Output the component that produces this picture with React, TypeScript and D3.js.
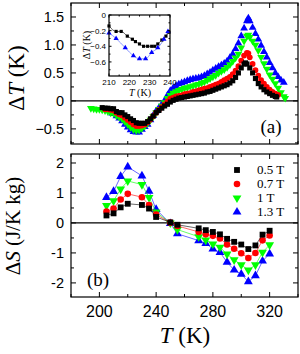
import React, { useRef, useEffect } from 'react';
import * as d3 from 'd3';

type Pt = [number, number];

// upper panel: ΔT (K) against T (K)
const dT05: Pt[] = [[202,-0.12],[204,-0.13],[206,-0.13],[208,-0.14],[210,-0.14],[212,-0.19],[214,-0.21],[216,-0.21],[218,-0.25],[220,-0.28],[222,-0.32],[224,-0.35],[226,-0.39],[228,-0.40],[230,-0.40],[232,-0.40],[234,-0.37],[236,-0.32],[238,-0.27],[240,-0.21],[242,-0.17],[244,-0.13],[246,-0.09],[248,-0.06],[250,-0.02],[252,0.01],[254,0.03],[256,0.05],[258,0.06],[260,0.07],[262,0.08],[264,0.09],[266,0.10],[268,0.11],[270,0.12],[272,0.13],[274,0.14],[276,0.16],[278,0.17],[280,0.19],[282,0.21],[284,0.23],[286,0.25],[288,0.27],[290,0.29],[292,0.32],[294,0.36],[296,0.42],[298,0.50],[300,0.59],[302,0.66],[303,0.68],[304,0.66],[306,0.59],[308,0.50],[310,0.40],[312,0.31],[314,0.25],[316,0.20],[318,0.16],[320,0.13],[322,0.10],[324,0.08],[325,0.07]];
const dT07: Pt[] = [[204,-0.15],[206,-0.15],[208,-0.16],[210,-0.17],[212,-0.21],[214,-0.24],[216,-0.26],[218,-0.30],[220,-0.34],[222,-0.38],[224,-0.42],[226,-0.45],[228,-0.45],[230,-0.44],[232,-0.42],[234,-0.38],[236,-0.33],[238,-0.27],[240,-0.21],[242,-0.16],[244,-0.11],[246,-0.06],[248,-0.01],[250,0.04],[252,0.06],[254,0.08],[256,0.09],[258,0.10],[260,0.12],[262,0.13],[264,0.14],[266,0.16],[268,0.17],[270,0.19],[272,0.20],[274,0.22],[276,0.23],[278,0.25],[280,0.27],[282,0.29],[284,0.31],[286,0.34],[288,0.37],[290,0.40],[292,0.43],[294,0.48],[296,0.54],[298,0.62],[300,0.72],[302,0.81],[304,0.86],[305,0.85],[306,0.78],[308,0.66],[310,0.55],[312,0.45],[314,0.37],[316,0.31],[318,0.25],[320,0.20],[322,0.16],[324,0.13],[326,0.11]];
const dT10: Pt[] = [[194,-0.13],[196,-0.14],[198,-0.15],[200,-0.15],[202,-0.16],[204,-0.17],[206,-0.19],[208,-0.21],[210,-0.22],[212,-0.26],[214,-0.29],[216,-0.32],[218,-0.37],[220,-0.42],[222,-0.47],[224,-0.51],[226,-0.53],[228,-0.52],[230,-0.49],[232,-0.45],[234,-0.40],[236,-0.34],[238,-0.28],[240,-0.21],[242,-0.15],[244,-0.09],[246,-0.03],[248,0.05],[250,0.10],[252,0.14],[254,0.17],[256,0.19],[258,0.21],[260,0.23],[262,0.24],[264,0.26],[266,0.27],[268,0.29],[270,0.30],[272,0.32],[274,0.34],[276,0.37],[278,0.40],[280,0.43],[282,0.46],[284,0.50],[286,0.53],[288,0.56],[290,0.60],[292,0.65],[294,0.71],[296,0.77],[298,0.84],[300,0.95],[302,1.07],[304,1.16],[305,1.18],[306,1.14],[308,1.07],[310,1.00],[312,0.90],[314,0.78],[316,0.67],[318,0.57],[320,0.47],[322,0.39],[324,0.31],[326,0.23],[328,0.15],[330,0.08],[331,0.05]];
const dT13: Pt[] = [[209,-0.22],[210,-0.23],[212,-0.27],[214,-0.31],[216,-0.36],[218,-0.42],[220,-0.47],[222,-0.52],[224,-0.55],[226,-0.56],[228,-0.56],[230,-0.51],[232,-0.46],[234,-0.42],[236,-0.34],[238,-0.26],[240,-0.18],[242,-0.12],[244,-0.06],[246,0.01],[248,0.10],[250,0.18],[252,0.23],[254,0.27],[256,0.30],[258,0.32],[260,0.34],[262,0.36],[264,0.38],[266,0.39],[268,0.40],[270,0.41],[272,0.43],[274,0.45],[276,0.48],[278,0.51],[280,0.55],[282,0.58],[284,0.61],[286,0.64],[288,0.67],[290,0.71],[292,0.77],[294,0.84],[296,0.93],[298,1.03],[300,1.16],[302,1.30],[304,1.43],[305,1.48],[306,1.43],[308,1.31],[310,1.20],[312,1.10],[314,0.99],[316,0.88],[318,0.78],[320,0.68],[322,0.59],[324,0.50],[326,0.43],[328,0.37],[330,0.33]];

// inset: zoom of the ΔT minimum
const insetT05: Pt[] = [[210,-0.14],[213.5,-0.21],[216,-0.21],[219,-0.27],[221.5,-0.31],[223,-0.34],[225,-0.37],[227,-0.40],[229,-0.40],[231,-0.40],[232.5,-0.40],[234,-0.37],[236,-0.32],[238,-0.27],[239.5,-0.22]];
const insetT13: Pt[] = [[210,-0.23],[213.5,-0.30],[218,-0.42],[222,-0.52],[225,-0.56],[228,-0.56],[231,-0.48],[234,-0.42],[237,-0.31],[239,-0.21]];

// lower panel: ΔS (J/K kg)
const sTemps = [205, 210, 215, 220, 230, 235, 240, 250, 255, 270, 275, 280, 285, 290, 295, 300, 305, 310, 315, 320];
const dS05 = [0.25, 0.32, 0.52, 0.64, 0.60, 0.48, 0.20, 0.02, -0.06, -0.18, -0.24, -0.30, -0.38, -0.53, -0.63, -0.72, -0.87, -0.75, -0.39, -0.26];
const dS07 = [0.38, 0.48, 0.78, 0.97, 0.86, 0.60, 0.28, 0.01, -0.10, -0.30, -0.38, -0.43, -0.52, -0.72, -0.86, -1.01, -1.17, -1.00, -0.58, -0.42];
const dS10 = [0.58, 0.74, 1.13, 1.40, 1.28, 0.85, 0.36, 0.00, -0.22, -0.46, -0.57, -0.70, -0.81, -1.04, -1.23, -1.40, -1.57, -1.40, -0.98, -0.73];
const dS13 = [0.85, 1.05, 1.55, 1.87, 1.57, 1.06, 0.45, -0.02, -0.36, -0.59, -0.68, -0.87, -0.98, -1.31, -1.57, -1.71, -1.96, -1.76, -1.27, -1.03];

const fieldLabels = ['0.5 T', '0.7 T', '1 T', '1.3 T'];
const xMajor = [200, 240, 280, 320];
const xMinor = [180, 220, 260, 300, 340];
const topMajor = [-0.5, 0, 0.5, 1.0, 1.5];
const topMinor = [-0.75, -0.25, 0.25, 0.75, 1.25];
const botMajor = [-2, -1, 0, 1, 2];
const botMinor = [-1.5, -0.5, 0.5, 1.5];
const insetXTicks = [210, 220, 230, 240];
const insetYTicks = [0, -0.2, -0.4, -0.6];

const SANS = 'Liberation Sans, Arial, sans-serif';
const SERIF = 'Liberation Serif, Times New Roman, serif';

const styles = [
  { color: '#000000', shape: 'square' },
  { color: '#ff0000', shape: 'circle' },
  { color: '#00ff00', shape: 'down' },
  { color: '#0000ff', shape: 'up' },
];

const symPath = (shape: string, size: number) => {
  const type = shape === 'square' ? d3.symbolSquare : shape === 'circle' ? d3.symbolCircle : d3.symbolTriangle;
  return d3.symbol().type(type).size(size)() as string;
};

const App: React.FC = () => {
  const svgRef = useRef<SVGSVGElement>(null);

  useEffect(() => {
    if (!svgRef.current) return;
    const svg = d3.select(svgRef.current);
    svg.selectAll('*').remove();

    const x = d3.scaleLinear().domain([180, 340]).range([71, 298]);
    const yTop = d3.scaleLinear().domain([-0.77, 1.75]).range([144, 3]);
    const yBot = d3.scaleLinear().domain([-2.47, 2.3]).range([297, 154]);

    // inward ticks on all four sides of a box
    const box = (xs: d3.ScaleLinear<number, number>, ys: d3.ScaleLinear<number, number>,
      xMaj: number[], xMin: number[], yMaj: number[], yMin: number[], maj: number, min: number) => {
      const [xa, xb] = xs.range();
      const [ya, yb] = ys.range();
      const g = svg.append('g').attr('stroke', '#000').attr('stroke-width', 1);
      const vt = (v: number, len: number) => {
        g.append('line').attr('x1', xs(v)).attr('x2', xs(v)).attr('y1', ya).attr('y2', ya - len);
        g.append('line').attr('x1', xs(v)).attr('x2', xs(v)).attr('y1', yb).attr('y2', yb + len);
      };
      const ht = (v: number, len: number) => {
        g.append('line').attr('y1', ys(v)).attr('y2', ys(v)).attr('x1', xa).attr('x2', xa + len);
        g.append('line').attr('y1', ys(v)).attr('y2', ys(v)).attr('x1', xb).attr('x2', xb - len);
      };
      xMaj.forEach(v => vt(v, maj));
      xMin.forEach(v => vt(v, min));
      yMaj.forEach(v => ht(v, maj));
      yMin.forEach(v => ht(v, min));
      g.append('rect').attr('x', xa).attr('y', yb).attr('width', xb - xa).attr('height', ya - yb)
        .attr('fill', 'none').attr('stroke-width', 1.2);
    };

    const drawPts = (g: d3.Selection<SVGGElement, unknown, null, undefined>, data: Pt[],
      xs: (v: number) => number, ys: (v: number) => number, st: { color: string; shape: string }, size: number) => {
      g.selectAll(null).data(data).enter().append('path')
        .attr('d', symPath(st.shape, size))
        .attr('transform', d => `translate(${xs(d[0])},${ys(d[1])})${st.shape === 'down' ? ' rotate(180)' : ''}`)
        .attr('fill', st.color);
    };

    // ---- upper panel
    svg.append('line').attr('x1', 71).attr('x2', 298).attr('y1', yTop(0)).attr('y2', yTop(0))
      .attr('stroke', '#000').attr('stroke-width', 1.2);
    const gTop = svg.append('g');
    const topSeries = [dT05, dT07, dT10, dT13];
    [3, 2, 1, 0].forEach(i => drawPts(gTop, topSeries[i], x, yTop, styles[i], 26));
    box(x, yTop, xMajor, xMinor, topMajor, topMinor, 5, 3);

    svg.append('g').selectAll('text').data(topMajor).enter().append('text')
      .attr('x', 64).attr('y', d => yTop(d)).attr('dy', '0.36em').attr('text-anchor', 'end')
      .attr('font-family', SANS).attr('font-size', 14.5)
      .text(d => (d === 0 ? '0' : d3.format('.1f')(d)));

    svg.append('text').attr('x', 271).attr('y', 133).attr('text-anchor', 'middle')
      .attr('font-family', SERIF).attr('font-size', 19).text('(a)');

    // ---- inset
    const xi = d3.scaleLinear().domain([210, 240]).range([109, 170]);
    const yi = d3.scaleLinear().domain([-0.78, 0]).range([76, 15]);
    svg.append('rect').attr('x', 109).attr('y', 15).attr('width', 61).attr('height', 61).attr('fill', '#fff');
    const line = d3.line<Pt>().x(d => xi(d[0])).y(d => yi(d[1])).curve(d3.curveMonotoneX);
    svg.append('path').attr('d', line(insetT13) as string).attr('fill', 'none').attr('stroke', '#6f7fff').attr('stroke-width', 0.8);
    svg.append('path').attr('d', line(insetT05) as string).attr('fill', 'none').attr('stroke', '#333').attr('stroke-width', 0.8);
    const gIn = svg.append('g');
    drawPts(gIn, insetT05, xi, yi, styles[0], 10);
    drawPts(gIn, insetT13, xi, yi, styles[3], 12);
    box(xi, yi, insetXTicks, [215, 225, 235], insetYTicks, [-0.1, -0.3, -0.5, -0.7], 2.5, 1.5);
    svg.append('g').selectAll('text').data(insetYTicks).enter().append('text')
      .attr('x', 106).attr('y', d => yi(d)).attr('dy', '0.36em').attr('text-anchor', 'end')
      .attr('font-family', SANS).attr('font-size', 8)
      .text(d => (d === 0 ? '0' : d3.format('.1f')(d)));
    svg.append('g').selectAll('text').data(insetXTicks).enter().append('text')
      .attr('x', d => xi(d)).attr('y', 85).attr('text-anchor', 'middle')
      .attr('font-family', SANS).attr('font-size', 8).text(d => String(d));
    const itl = svg.append('text').attr('x', 140).attr('y', 96).attr('text-anchor', 'middle')
      .attr('font-family', SERIF).attr('font-size', 10);
    itl.append('tspan').attr('font-style', 'italic').text('T');
    itl.append('tspan').text(' (K)');
    const iyl = svg.append('text').attr('transform', 'translate(90,45) rotate(-90)').attr('text-anchor', 'middle')
      .attr('font-family', SERIF).attr('font-size', 10);
    iyl.append('tspan').text('\u0394');
    iyl.append('tspan').attr('font-style', 'italic').text('T');
    iyl.append('tspan').text(' (K)');

    // ---- lower panel
    svg.append('line').attr('x1', 71).attr('x2', 298).attr('y1', yBot(0)).attr('y2', yBot(0))
      .attr('stroke', '#000').attr('stroke-width', 1.2);
    const botSeries = [dS05, dS07, dS10, dS13];
    const gBot = svg.append('g');
    [3, 2, 1, 0].forEach(i => {
      const pts: Pt[] = sTemps.map((t, k) => [t, botSeries[i][k]]);
      const ln = d3.line<Pt>().x(d => x(d[0])).y(d => yBot(d[1]));
      gBot.append('path').attr('d', ln(pts) as string).attr('fill', 'none')
        .attr('stroke', styles[i].color).attr('stroke-width', 0.6);
      drawPts(gBot, pts, x, yBot, styles[i], 34);
    });
    box(x, yBot, xMajor, xMinor, botMajor, botMinor, 5, 3);

    svg.append('g').selectAll('text').data(botMajor).enter().append('text')
      .attr('x', 64).attr('y', d => yBot(d)).attr('dy', '0.36em').attr('text-anchor', 'end')
      .attr('font-family', SANS).attr('font-size', 14.5).text(d => String(d));

    svg.append('g').selectAll('text').data(xMajor).enter().append('text')
      .attr('x', d => x(d)).attr('y', 317).attr('text-anchor', 'middle')
      .attr('font-family', SANS).attr('font-size', 16).text(d => String(d));

    svg.append('text').attr('x', 98).attr('y', 286).attr('text-anchor', 'middle')
      .attr('font-family', SERIF).attr('font-size', 19).text('(b)');

    // legend
    const leg = svg.append('g');
    fieldLabels.forEach((lab, i) => {
      const yy = 170 + i * 14;
      leg.append('path').attr('d', symPath(styles[i].shape, 34))
        .attr('transform', `translate(237,${yy})${styles[i].shape === 'down' ? ' rotate(180)' : ''}`)
        .attr('fill', styles[i].color);
      leg.append('text').attr('x', 257).attr('y', yy).attr('dy', '0.33em')
        .attr('font-family', SERIF).attr('font-size', 13).text(lab);
    });

    // axis titles
    const xt = svg.append('text').attr('x', 185).attr('y', 343).attr('text-anchor', 'middle')
      .attr('font-family', SERIF).attr('font-size', 23);
    xt.append('tspan').attr('font-style', 'italic').text('T');
    xt.append('tspan').text(' (K)');

    const yt = svg.append('text').attr('transform', 'translate(24,78) rotate(-90)').attr('text-anchor', 'middle')
      .attr('font-family', SERIF).attr('font-size', 23);
    yt.append('tspan').text('\u0394');
    yt.append('tspan').attr('font-style', 'italic').text('T');
    yt.append('tspan').text(' (K)');

    const yb = svg.append('text').attr('transform', 'translate(20,226) rotate(-90)').attr('text-anchor', 'middle')
      .attr('font-family', SERIF).attr('font-size', 21);
    yb.append('tspan').text('\u0394');
    yb.append('tspan').attr('font-style', 'italic').text('S');
    yb.append('tspan').text(' (J/K kg)');
  }, []);

  return (
    <svg ref={svgRef} width={300} height={354}
      style={{ position: 'absolute', left: 0, top: 0, background: '#fff' }} />
  );
};

export default App;
